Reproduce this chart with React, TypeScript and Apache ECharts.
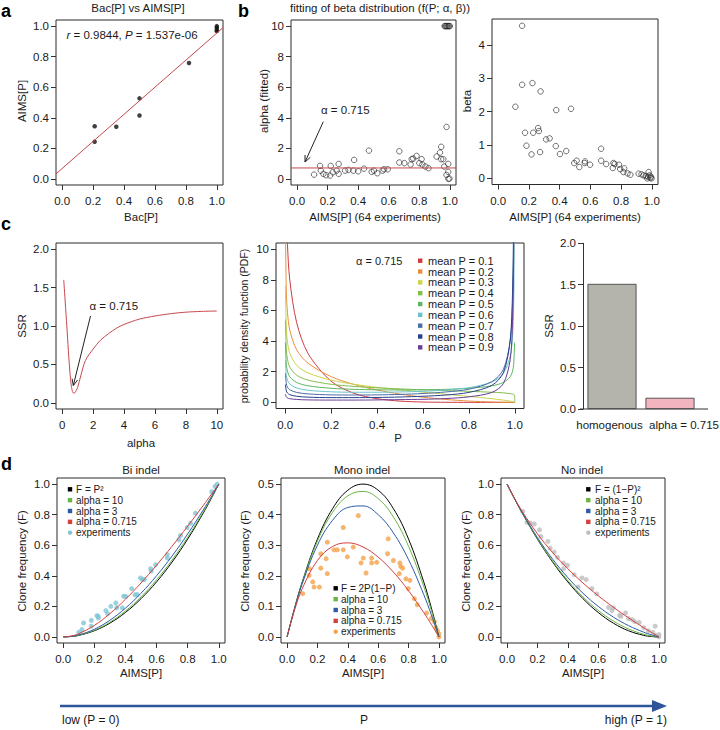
import React, { useEffect, useRef } from "react";
import * as echarts from "echarts";

const FONT = "Liberation Sans";

// ---------- panel a ----------
const aBac = [0.21, 0.21, 0.35, 0.5, 0.5, 0.82, 1.0, 1.0, 1.0, 1.0];
const aAims = [0.345, 0.243, 0.341, 0.527, 0.415, 0.759, 1.0, 0.99, 0.975, 0.967];
const aFitX = [-0.04, 1.04];
const aFitY = [0.033, 0.99];

// ---------- panel b ----------
const alphaHat = 0.715;
const bLineX = [-0.04, 1.04];
const bAlphaX = [0.111, 0.15, 0.155, 0.172, 0.19, 0.216, 0.22, 0.233, 0.259, 0.272, 0.272, 0.314, 0.336, 0.373, 0.368, 0.4, 0.438, 0.47, 0.488, 0.503, 0.525, 0.56, 0.569, 0.593, 0.669, 0.669, 0.702, 0.743, 0.75, 0.76, 0.782, 0.8, 0.815, 0.82, 0.84, 0.86, 0.913, 0.935, 0.943, 0.943, 0.957, 0.978, 0.963, 0.989, 0.978, 0.989, 0.99, 0.997, 0.965, 0.97, 0.975, 0.98, 0.985, 0.99, 0.995, 1.0];
const bAlphaY = [0.28, 0.85, 0.54, 0.33, 0.24, 0.22, 0.85, 0.43, 0.54, 0.98, 0.33, 0.54, 0.59, 1.24, 0.54, 0.5, 0.67, 1.85, 0.46, 0.54, 0.37, 0.54, 0.63, 0.63, 1.81, 1.07, 1.03, 0.94, 1.29, 1.33, 1.5, 1.03, 1.29, 0.94, 0.81, 0.7, 1.46, 1.72, 2.1, 1.29, 1.29, 3.4, 0.81, 0.98, 0.26, 0.46, 0.0, 0.02, 10, 10, 10, 10, 10, 10, 10, 10];
const bBetaX = [0.156, 0.112, 0.156, 0.223, 0.276, 0.175, 0.228, 0.26, 0.265, 0.184, 0.217, 0.273, 0.312, 0.335, 0.378, 0.375, 0.402, 0.443, 0.474, 0.495, 0.511, 0.528, 0.563, 0.565, 0.598, 0.67, 0.67, 0.703, 0.746, 0.75, 0.758, 0.786, 0.794, 0.82, 0.815, 0.842, 0.86, 0.914, 0.933, 0.946, 0.96, 0.979, 0.975, 0.985, 0.99, 0.998, 0.994, 0.97];
const bBetaY = [4.58, 2.15, 2.81, 2.86, 2.61, 1.37, 1.37, 1.51, 1.42, 0.98, 0.72, 0.79, 1.17, 1.2, 2.05, 0.97, 0.73, 0.82, 2.09, 0.46, 0.53, 0.34, 0.46, 0.51, 0.41, 0.53, 0.89, 0.43, 0.31, 0.46, 0.43, 0.41, 0.28, 0.3, 0.19, 0.15, 0.11, 0.14, 0.12, 0.09, 0.07, 0.19, 0.05, 0.09, 0.01, 0.0, 0.05, 0.0];

// ---------- panel c ----------
const ssrAlpha = [0.1, 0.2, 0.3, 0.4, 0.5, 0.6, 0.715, 0.8, 0.9, 1.0, 1.2, 1.5, 2, 2.5, 3, 3.5, 4, 5, 6, 7, 8, 9, 10];
const ssrValue = [1.6, 1.3, 1.0, 0.68, 0.4, 0.21, 0.13, 0.13, 0.16, 0.2, 0.35, 0.55, 0.7, 0.82, 0.9, 0.97, 1.02, 1.09, 1.13, 1.16, 1.18, 1.19, 1.195];

const pdfX = [0.001, 0.005, 0.01, 0.02, 0.05, 0.1, 0.2, 0.3, 0.4, 0.5, 0.6, 0.7, 0.8, 0.9, 0.95, 0.98, 0.99, 0.995, 0.999, 1.0];
const pdf01 = [20.8, 12.88, 10.29, 7.99, 5.2, 3.18, 1.38, 0.59, 0.24, 0.082, 0.023, 0.005, 0.001, 0, 0, 0, 0, 0, 0, 0];
const pdf02 = [11.49, 7.21, 5.86, 4.72, 3.43, 2.55, 1.68, 1.17, 0.81, 0.54, 0.34, 0.19, 0.086, 0.023, 0.006, 0.001, 0, 0, 0, 0];
const pdf03 = [7.63, 4.81, 3.94, 3.21, 2.42, 1.92, 1.45, 1.18, 0.98, 0.82, 0.67, 0.53, 0.39, 0.24, 0.146, 0.079, 0.049, 0.031, 0.011, 0];
const pdf04 = [5.41, 3.42, 2.81, 2.3, 1.77, 1.45, 1.18, 1.04, 0.95, 0.88, 0.82, 0.77, 0.72, 0.66, 0.62, 0.57, 0.54, 0.52, 0.46, 0];
const pdf05 = [3.9, 2.47, 2.03, 1.67, 1.3, 1.08, 0.92, 0.85, 0.82, 0.81, 0.82, 0.85, 0.92, 1.08, 1.3, 1.67, 2.03, 2.47, 3.9, null];
const pdf06 = [2.78, 1.76, 1.45, 1.2, 0.94, 0.79, 0.69, 0.66, 0.66, 0.68, 0.72, 0.81, 0.96, 1.33, 1.89, 3.02, 4.33, 6.21, 14.4, null];
const pdf07 = [1.9, 1.21, 0.99, 0.82, 0.65, 0.55, 0.49, 0.48, 0.49, 0.52, 0.58, 0.68, 0.86, 1.35, 2.15, 4.03, 6.49, 10.5, 29, null];
const pdf08 = [1.17, 0.74, 0.61, 0.5, 0.4, 0.34, 0.31, 0.31, 0.32, 0.35, 0.4, 0.48, 0.65, 1.11, 1.93, 4.07, 7.16, 12.6, 36, null];
const pdf09 = [0.54, 0.35, 0.29, 0.24, 0.19, 0.16, 0.15, 0.15, 0.16, 0.18, 0.2, 0.25, 0.36, 0.65, 1.22, 2.8, 5.29, 9.99, 43.9, null];
const pdfSeries = [pdf01, pdf02, pdf03, pdf04, pdf05, pdf06, pdf07, pdf08, pdf09];
const pdfLabels = ["mean P = 0.1", "mean P = 0.2", "mean P = 0.3", "mean P = 0.4", "mean P = 0.5", "mean P = 0.6", "mean P = 0.7", "mean P = 0.8", "mean P = 0.9"];
const pdfColors = ["#cf3a3e", "#ea8f3e", "#c9d548", "#82bf4b", "#5cb65f", "#6cc3cc", "#4a6ca8", "#28418f", "#683f96"];

const barCats = ["homogenous", "alpha = 0.715"];
const barVals = [1.51, 0.135];
const barColors = ["#b4b4ac", "#f2b5bf"];

// ---------- panel d ----------
const dX = [0, 0.05, 0.1, 0.2, 0.3, 0.4, 0.5, 0.6, 0.7, 0.8, 0.9, 0.95, 1.0];
const biP2 = [0, 0.0025, 0.01, 0.04, 0.09, 0.16, 0.25, 0.36, 0.49, 0.64, 0.81, 0.9025, 1];
const biA10 = [0, 0.0027, 0.0109, 0.0431, 0.0961, 0.1692, 0.2619, 0.3736, 0.5037, 0.6519, 0.8174, 0.9066, 1];
const biA3 = [0, 0.0033, 0.0129, 0.05, 0.1091, 0.1882, 0.2857, 0.4, 0.5297, 0.6737, 0.8308, 0.9139, 1];
const biA07 = [0, 0.0056, 0.021, 0.075, 0.1521, 0.2461, 0.3529, 0.4695, 0.5939, 0.7245, 0.8602, 0.9296, 1];
const moP = [0, 0.095, 0.18, 0.32, 0.42, 0.48, 0.5, 0.48, 0.42, 0.32, 0.18, 0.095, 0];
const moA10 = [0, 0.0945, 0.1782, 0.3137, 0.4078, 0.4615, 0.4762, 0.4528, 0.3925, 0.2963, 0.1651, 0.0868, 0];
const moA3 = [0, 0.0934, 0.1742, 0.3, 0.3818, 0.4235, 0.4286, 0.4, 0.3405, 0.2526, 0.1385, 0.0722, 0];
const moA07 = [0, 0.0888, 0.1579, 0.25, 0.2959, 0.3078, 0.2942, 0.261, 0.2122, 0.151, 0.0797, 0.0408, 0];
const noP = [1, 0.9025, 0.81, 0.64, 0.49, 0.36, 0.25, 0.16, 0.09, 0.04, 0.01, 0.0025, 0];
const noA10 = [1, 0.9027, 0.8109, 0.6431, 0.4961, 0.3692, 0.2619, 0.1736, 0.1037, 0.0519, 0.0174, 0.0066, 0];
const noA3 = [1, 0.9033, 0.8129, 0.65, 0.5091, 0.3882, 0.2857, 0.2, 0.1297, 0.0737, 0.0308, 0.0139, 0];
const noA07 = [1, 0.9056, 0.821, 0.675, 0.5521, 0.4461, 0.3529, 0.2695, 0.1939, 0.1245, 0.0602, 0.0296, 0];

const biExp = [[0.1, 0.03], [0.12, 0.048], [0.131, 0.091], [0.18, 0.07], [0.181, 0.108], [0.217, 0.139], [0.224, 0.135], [0.226, 0.124], [0.274, 0.172], [0.285, 0.152], [0.306, 0.2], [0.338, 0.222], [0.344, 0.19], [0.38, 0.19], [0.389, 0.266], [0.402, 0.265], [0.44, 0.316], [0.462, 0.276], [0.476, 0.277], [0.497, 0.386], [0.508, 0.375], [0.522, 0.375], [0.562, 0.446], [0.566, 0.43], [0.594, 0.472], [0.669, 0.516], [0.669, 0.538], [0.744, 0.636], [0.754, 0.664], [0.797, 0.716], [0.819, 0.744], [0.85, 0.81], [0.955, 0.95], [0.976, 0.985], [0.99, 1.0]];
const moExp = [[0.103, 0.1415], [0.147, 0.223], [0.145, 0.201], [0.169, 0.18], [0.178, 0.163], [0.213, 0.163], [0.222, 0.225], [0.222, 0.272], [0.257, 0.256], [0.265, 0.31], [0.265, 0.207], [0.309, 0.285], [0.331, 0.285], [0.37, 0.285], [0.37, 0.358], [0.397, 0.262], [0.436, 0.294], [0.469, 0.397], [0.487, 0.242], [0.502, 0.258], [0.52, 0.209], [0.557, 0.258], [0.557, 0.242], [0.59, 0.244], [0.666, 0.321], [0.662, 0.272], [0.7, 0.25], [0.743, 0.242], [0.739, 0.207], [0.748, 0.231], [0.761, 0.225], [0.783, 0.19], [0.809, 0.185], [0.798, 0.158], [0.838, 0.125], [0.857, 0.105], [0.919, 0.078], [0.95, 0.06], [0.97, 0.05], [0.98, 0.03], [0.99, 0.02], [1.0, 0.0], [1.0, 0.01]];
const noExp = [[0.104, 0.821], [0.131, 0.749], [0.153, 0.745], [0.179, 0.739], [0.214, 0.701], [0.223, 0.657], [0.269, 0.625], [0.284, 0.581], [0.311, 0.555], [0.332, 0.52], [0.372, 0.483], [0.398, 0.468], [0.372, 0.446], [0.442, 0.407], [0.468, 0.327], [0.493, 0.386], [0.521, 0.375], [0.559, 0.316], [0.591, 0.281], [0.668, 0.193], [0.69, 0.172], [0.7, 0.19], [0.74, 0.141], [0.75, 0.135], [0.78, 0.157], [0.8, 0.12], [0.824, 0.113], [0.84, 0.1], [0.87, 0.095], [0.9, 0.06], [0.93, 0.04], [0.96, 0.03], [0.975, 0.07], [0.98, 0.01], [1.0, 0.015], [1.0, 0.0]];

const dColors = ["#000000", "#6ab344", "#2e5aa6", "#d43f3f"];
const expColors = ["#7fc6d6", "#f4a24a", "#bdbdbd"];

// tick label lists
const t01 = [0, 0.2, 0.4, 0.6, 0.8, 1];
const t010 = [0, 2, 4, 6, 8, 10];
const t04 = [0, 1, 2, 3, 4];
const tSSR = [0, 0.5, 1, 1.5, 2];
const tMono = [0, 0.1, 0.2, 0.3, 0.4, 0.5];

const fmt1 = (v: number) => v.toFixed(1);
const fmt0 = (v: number) => String(Math.round(v));
const TICK_FS = 11.5;

const grids = [
  { left: 56, top: 20, width: 167, height: 165 },
  { left: 291, top: 20, width: 165, height: 165 },
  { left: 492, top: 19, width: 166, height: 165.5 },
  { left: 56, top: 243, width: 167, height: 166 },
  { left: 276, top: 243, width: 248, height: 165.5 },
  { left: 583, top: 243.3, width: 116, height: 165.7 },
  { left: 57, top: 478, width: 168, height: 165 },
  { left: 281, top: 478, width: 164, height: 165 },
  { left: 501, top: 478, width: 164, height: 165 },
];

function xVal(gi: number, min: number, max: number, ticks: number[], fmt: any) {
  return {
    type: "value", gridIndex: gi, min, max, position: "bottom",
    axisLine: { show: false, onZero: false }, splitLine: { show: false },
    axisTick: { show: true, inside: false, length: 5, customValues: ticks, lineStyle: { color: "#333", width: 1 } },
    axisLabel: { show: true, customValues: ticks, formatter: fmt, fontSize: TICK_FS, fontFamily: FONT, color: "#1a1a1a", margin: 10 },
  };
}
function yVal(gi: number, min: number, max: number, ticks: number[], fmt: any) {
  return {
    type: "value", gridIndex: gi, min, max, position: "left",
    axisLine: { show: false, onZero: false }, splitLine: { show: false },
    axisTick: { show: true, inside: false, length: 5, customValues: ticks, lineStyle: { color: "#333", width: 1 } },
    axisLabel: { show: true, customValues: ticks, formatter: fmt, fontSize: TICK_FS, fontFamily: FONT, color: "#1a1a1a", margin: 7 },
  };
}

const zip = (xs: number[], ys: (number | null)[]) => xs.map((x, i) => [x, ys[i]]);

function lineS(gi: number, data: any[], color: string, width = 1, smooth: any = 0.4) {
  return {
    type: "line", xAxisIndex: gi, yAxisIndex: gi, data, showSymbol: false, symbol: "none",
    smooth, clip: true, silent: true,
    lineStyle: { color, width },
  };
}
function openScatter(gi: number, data: any[]) {
  return {
    type: "scatter", xAxisIndex: gi, yAxisIndex: gi, data, symbol: "circle", symbolSize: 5.5, silent: true,
    itemStyle: { color: "rgba(255,255,255,0)", borderColor: "#222", borderWidth: 0.8 },
  };
}
function dotScatter(gi: number, data: any[], color: string, size: number) {
  return {
    type: "scatter", xAxisIndex: gi, yAxisIndex: gi, data, symbol: "circle", symbolSize: size, silent: true,
    itemStyle: { color },
  };
}

function T(text: string, x: number, y: number, o: any = {}) {
  return {
    type: "text", x, y, rotation: o.rot || 0, silent: true,
    style: {
      text, fill: o.color || "#1a1a1a", fontSize: o.size || 11.5, fontFamily: FONT,
      fontWeight: o.bold ? "bold" : "normal",
      textAlign: o.align || "center", align: o.align || "center",
      textVerticalAlign: "middle", verticalAlign: "middle",
    },
  };
}
function arrow(x1: number, y1: number, x2: number, y2: number) {
  const th = Math.atan2(y2 - y1, x2 - x1);
  const ph = 0.42, L = 7;
  return [
    { type: "line", silent: true, shape: { x1, y1, x2, y2 }, style: { stroke: "#222", lineWidth: 1 } },
    {
      type: "polyline", silent: true,
      shape: { points: [[x2 - L * Math.cos(th - ph), y2 - L * Math.sin(th - ph)], [x2, y2], [x2 - L * Math.cos(th + ph), y2 - L * Math.sin(th + ph)]] },
      style: { stroke: "#222", lineWidth: 1, fill: "none" },
    },
  ];
}
function dLegend(sqX: number, txX: number, y0: number, labels: string[], expColor: string) {
  const out: any[] = [];
  labels.forEach((lab, i) => {
    const y = y0 + i * 10.85;
    if (i < 4) out.push({ type: "rect", silent: true, shape: { x: sqX - 2.2, y: y - 2.2, width: 4.4, height: 4.4 }, style: { fill: dColors[i] } });
    else out.push({ type: "circle", silent: true, shape: { cx: sqX, cy: y, r: 2.2 }, style: { fill: expColor } });
    out.push(T(lab, txX, y, { align: "left", size: 10 }));
  });
  return out;
}

export default function App() {
  const ref = useRef<HTMLDivElement>(null);
  useEffect(() => {
    const chart = echarts.init(ref.current!, null, { renderer: "svg" });

    const gridOpts = grids.map((g, i) => ({
      ...g, show: i !== 5, borderColor: "#2a2a2a", borderWidth: 1, backgroundColor: "rgba(0,0,0,0)",
      containLabel: false, outerBoundsMode: "none",
    }));

    const xAxis: any[] = [
      xVal(0, -0.04, 1.04, t01, fmt1),
      xVal(1, -0.04, 1.04, t01, fmt1),
      xVal(2, -0.04, 1.04, t01, fmt1),
      xVal(3, -0.4, 10.4, t010, fmt0),
      xVal(4, -0.04, 1.04, t01, fmt1),
      {
        type: "category", gridIndex: 5, data: barCats,
        axisLine: { show: false }, axisTick: { show: false },
        axisLabel: { show: false },
      },
      xVal(6, -0.04, 1.04, t01, fmt1),
      xVal(7, -0.04, 1.04, t01, fmt1),
      xVal(8, -0.04, 1.04, t01, fmt1),
    ];
    const yAxis: any[] = [
      yVal(0, -0.04, 1.04, t01, fmt1),
      yVal(1, -0.4, 10.4, t010, fmt0),
      yVal(2, -0.184, 4.784, t04, fmt0),
      yVal(3, -0.08, 2.08, tSSR, fmt1),
      yVal(4, -0.4, 10.4, t010, fmt0),
      {
        type: "value", gridIndex: 5, min: 0, max: 2, interval: 0.5,
        axisLine: { show: true, onZero: false, lineStyle: { color: "#333", width: 1 } },
        splitLine: { show: false },
        axisTick: { show: true, length: 5, lineStyle: { color: "#333" } },
        axisLabel: { formatter: fmt1, fontSize: TICK_FS, fontFamily: FONT, color: "#1a1a1a", margin: 7 },
      },
      yVal(6, -0.04, 1.04, t01, fmt1),
      yVal(7, -0.02, 0.52, tMono, fmt1),
      yVal(8, -0.04, 1.04, t01, fmt1),
    ];

    const series: any[] = [
      lineS(0, zip(aFitX, aFitY), "#c8474d", 1, false),
      dotScatter(0, zip(aBac, aAims), "#111", 4.5),
      lineS(1, zip(bLineX, [alphaHat, alphaHat]), "#c8474d", 1, false),
      openScatter(1, zip(bAlphaX, bAlphaY)),
      openScatter(2, zip(bBetaX, bBetaY)),
      lineS(3, zip(ssrAlpha, ssrValue), "#c8474d", 1, 0.3),
      ...pdfSeries.map((s, i) => lineS(4, zip(pdfX, s), pdfColors[i], 1, 0.3)),
      {
        type: "bar", xAxisIndex: 5, yAxisIndex: 5, barWidth: 49, silent: true,
        data: barVals.map((v, i) => ({ value: v, itemStyle: { color: barColors[i], borderColor: "#333", borderWidth: 0.8 } })),
      },
      lineS(6, zip(dX, biP2), dColors[0]),
      lineS(6, zip(dX, biA10), dColors[1]),
      lineS(6, zip(dX, biA3), dColors[2]),
      lineS(6, zip(dX, biA07), dColors[3]),
      dotScatter(6, biExp, expColors[0], 5),
      lineS(7, zip(dX, moP), dColors[0]),
      lineS(7, zip(dX, moA10), dColors[1]),
      lineS(7, zip(dX, moA3), dColors[2]),
      lineS(7, zip(dX, moA07), dColors[3]),
      dotScatter(7, moExp, expColors[1], 5),
      lineS(8, zip(dX, noP), dColors[0]),
      lineS(8, zip(dX, noA10), dColors[1]),
      lineS(8, zip(dX, noA3), dColors[2]),
      lineS(8, zip(dX, noA07), dColors[3]),
      dotScatter(8, noExp, expColors[2], 5),
    ];

    const graphic: any[] = [
      // panel letters
      T("a", 1, 11, { bold: true, size: 18, align: "left", color: "#000" }),
      T("b", 238, 11, { bold: true, size: 18, align: "left", color: "#000" }),
      T("c", 1, 224, { bold: true, size: 18, align: "left", color: "#000" }),
      T("d", 1, 463.5, { bold: true, size: 18, align: "left", color: "#000" }),
      // titles
      T("Bac[P] vs AIMS[P]", 138, 7.5),
      T("fitting of beta distribution (f(P; α, β))", 380, 7.5),
      T("Bi indel", 141, 469.5),
      T("Mono indel", 362, 469.5),
      T("No indel", 582, 469.5),
      // axis titles
      T("Bac[P]", 141, 217),
      T("AIMS[P]", 22, 101, { rot: Math.PI / 2 }),
      T("AIMS[P] (64 experiments)", 375, 216.5),
      T("AIMS[P] (64 experiments)", 575, 216.5),
      T("alpha (fitted)", 264, 101, { rot: Math.PI / 2 }),
      T("beta", 467, 101, { rot: Math.PI / 2 }),
      T("alpha", 141, 443),
      T("SSR", 22, 326, { rot: Math.PI / 2 }),
      T("probability density function (PDF)", 244, 326, { rot: Math.PI / 2, size: 10.5 }),
      T("P", 398, 438),
      T("SSR", 549, 326, { rot: Math.PI / 2 }),
      T("Clone frequency (F)", 22, 561, { rot: Math.PI / 2 }),
      T("Clone frequency (F)", 245, 561, { rot: Math.PI / 2 }),
      T("Clone frequency (F)", 466, 561, { rot: Math.PI / 2 }),
      T("AIMS[P]", 141, 673),
      T("AIMS[P]", 363, 673),
      T("AIMS[P]", 583, 673),
      // bar category labels
      T(barCats[0], 609.5, 425, { size: 11.5 }),
      T(barCats[1], 684, 425, { size: 11.5 }),
      // panel a stats
      {
        type: "text", x: 66.5, y: 34.5, silent: true,
        style: {
          text: "{i|r}{n| = 0.9844, }{i|P}{n| = 1.537e-06}",
          textVerticalAlign: "middle", verticalAlign: "middle", textAlign: "left", align: "left",
          fontSize: 11.5, fontFamily: FONT, fill: "#1a1a1a",
          rich: {
            i: { fontStyle: "italic", fontSize: 11.5, fontFamily: FONT, fill: "#1a1a1a" },
            n: { fontSize: 11.5, fontFamily: FONT, fill: "#1a1a1a" },
          },
        },
      },
      // annotations
      T("α = 0.715", 321, 110, { align: "left", size: 11.5 }),
      ...arrow(323.3, 121.7, 305, 162),
      T("α = 0.715", 89.5, 306, { align: "left", size: 11.5 }),
      ...arrow(90.5, 316, 73.3, 385.5),
      // c-middle legend
      T("α = 0.715", 356, 260.7, { align: "left", size: 11 }),
      ...pdfLabels.flatMap((lab, i) => {
        const y = 260.7 + i * 10.83;
        return [
          { type: "rect", silent: true, shape: { x: 418, y: y - 2.2, width: 4.4, height: 4.4 }, style: { fill: pdfColors[i] } },
          T(lab, 428, y, { align: "left", size: 11 }),
        ];
      }),
      // c-right baseline
      { type: "line", silent: true, shape: { x1: 580, y1: 409, x2: 708, y2: 409 }, style: { stroke: "#333", lineWidth: 1 } },
      // d legends
      ...dLegend(70, 76, 489.3, ["F = P²", "alpha = 10", "alpha = 3", "alpha = 0.715", "experiments"], expColors[0]),
      ...dLegend(335.7, 341, 588.3, ["F = 2P(1−P)", "alpha = 10", "alpha = 3", "alpha = 0.715", "experiments"], expColors[1]),
      ...dLegend(588.3, 595, 489.3, ["F = (1−P)²", "alpha = 10", "alpha = 3", "alpha = 0.715", "experiments"], expColors[2]),
      // bottom arrow
      { type: "line", silent: true, shape: { x1: 60, y1: 706, x2: 654, y2: 706 }, style: { stroke: "#2e5597", lineWidth: 2.5 } },
      { type: "polygon", silent: true, shape: { points: [[652, 700], [667, 706], [652, 712]] }, style: { fill: "#2e5597" } },
      T("low (P = 0)", 62, 720, { align: "left", size: 12 }),
      T("P", 364, 720, { size: 12 }),
      T("high (P = 1)", 667, 720, { align: "right", size: 12 }),
    ];

    chart.setOption({
      animation: false,
      backgroundColor: "#ffffff",
      textStyle: { fontFamily: FONT },
      grid: gridOpts,
      xAxis,
      yAxis,
      series,
      graphic,
    });
    return () => chart.dispose();
  }, []);
  return <div ref={ref} style={{ position: "absolute", left: 0, top: 0, width: 720, height: 730 }} />;
}
